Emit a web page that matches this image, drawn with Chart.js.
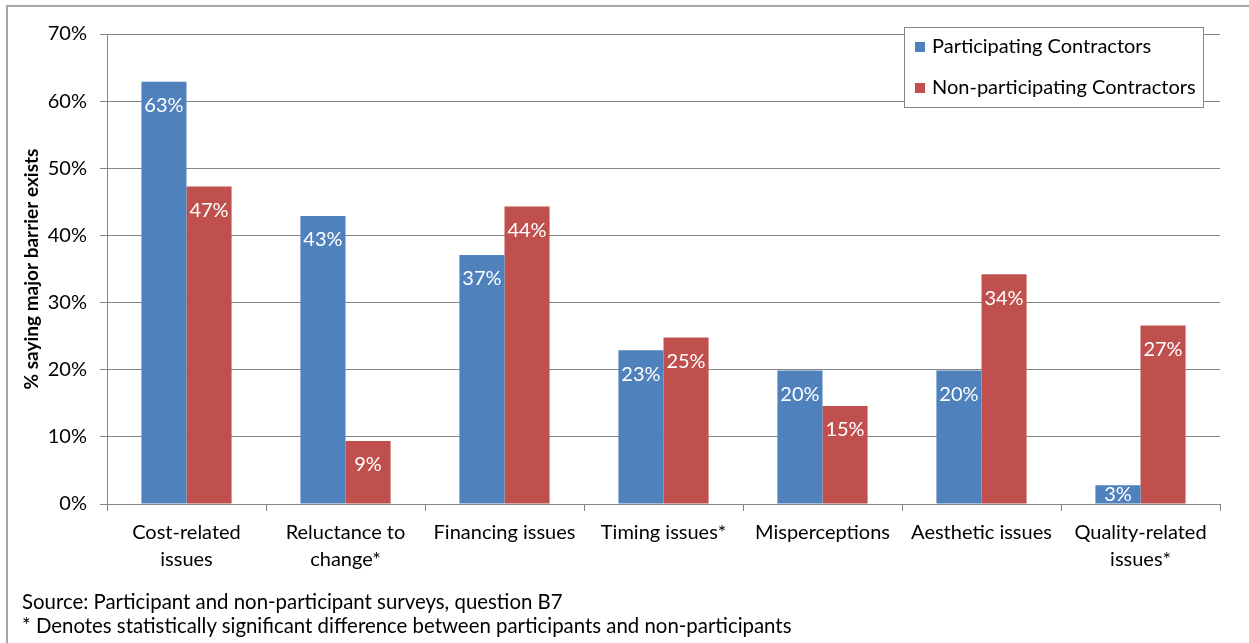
<!DOCTYPE html>
<html lang="en">
<head>
    <meta charset="UTF-8">
    <title>Barriers chart</title>
<script src="https://cdn.jsdelivr.net/npm/chart.js@4.4.1/dist/chart.umd.min.js"></script>
<style>
    body { margin: 0; background: #fff; }
    #wrap { position: relative; width: 1249px; height: 643px; overflow: hidden; }
    #frame { position: absolute; left: 6px; top: 5px; width: 1300px; height: 700px;
             border-left: 2px solid #a6a6a6; border-top: 2px solid #a6a6a6; }
    .note { position: absolute; left: 22px; font-family: Lato, sans-serif; font-size: 20.4px; color: #000; white-space: nowrap; }
</style>
</head>
<body>
<div id="wrap">
    <div id="frame"></div>
    <canvas id="myChart"></canvas>
    <div class="note" style="top: 589px">Source: Participant and non-participant surveys, question B7</div>
    <div class="note" style="top: 613px">* Denotes statistically significant difference between participants and non-participants</div>
</div>
<script>
    // 데이터
    const categories = [
        ['Cost-related', 'issues'],
        ['Reluctance to', 'change*'],
        'Financing issues',
        'Timing issues*',
        'Misperceptions',
        'Aesthetic issues',
        ['Quality-related', 'issues*']
    ];
    const participating = [62.9, 42.9, 37.1, 22.9, 19.9, 19.9, 2.8];
    const nonParticipating = [47.3, 9.4, 44.3, 24.8, 14.6, 34.2, 26.6];
    const yTicks = [0, 10, 20, 30, 40, 50, 60, 70];

    const FONT = 'Lato';
    const GRID = '#868686';

    // 막대 안쪽 위 라벨
    const barLabels = {
        id: 'barLabels',
        afterDatasetsDraw(chart) {
            const ctx = chart.ctx;
            ctx.save();
            ctx.font = '20px ' + FONT;
            ctx.fillStyle = '#fff';
            ctx.textAlign = 'center';
            ctx.textBaseline = 'middle';
            chart.data.datasets.forEach((ds, i) => {
                chart.getDatasetMeta(i).data.forEach((el, j) => {
                    let y = Math.min(el.y + 24, el.base - 9);
                    ctx.fillText(Math.round(ds.data[j]) + '%', el.x, y);
                });
            });
            ctx.restore();
        }
    };

    // 범례 (플롯 안 오른쪽 위)
    const boxLegend = {
        id: 'boxLegend',
        afterDraw(chart) {
            const ctx = chart.ctx;
            const a = chart.chartArea;
            const x0 = a.right - 316, y0 = a.top - 7;
            ctx.save();
            ctx.fillStyle = '#fff';
            ctx.fillRect(x0, y0, 299, 80);
            ctx.strokeStyle = GRID;
            ctx.lineWidth = 1;
            ctx.strokeRect(x0 + 0.5, y0 + 0.5, 299, 80);
            ctx.font = '20px ' + FONT;
            ctx.textBaseline = 'middle';
            ctx.textAlign = 'left';
            chart.data.datasets.forEach((ds, i) => {
                const cy = y0 + 20 + i * 41;
                ctx.fillStyle = ds.backgroundColor;
                ctx.fillRect(x0 + 11, cy - 5, 10, 10);
                ctx.fillStyle = '#000';
                ctx.fillText(ds.label, x0 + 28, cy);
            });
            ctx.restore();
        }
    };

const ctx = document.getElementById('myChart').getContext('2d');
const myChart = new Chart(ctx, {
    type: 'bar',
    data: {
        labels: categories,
        datasets: [{
            label: 'Participating Contractors',
            data: participating,
            backgroundColor: '#4F81BD'
        }, {
            label: 'Non-participating Contractors',
            data: nonParticipating,
            backgroundColor: '#C0504D'
        }]
    },
    options: {
        responsive: true,
        maintainAspectRatio: false,
        animation: false,
        events: [],
        categoryPercentage: 0.567,
        barPercentage: 1,
        layout: { padding: { left: 0, top: 34, right: 29, bottom: 0 } },
        plugins: {
            legend: { display: false },
            tooltip: { enabled: false }
        },
        scales: {
            x: {
                grid: { drawOnChartArea: false, drawTicks: true, tickLength: 7, color: GRID, offset: true },
                border: { display: true, color: GRID },
                ticks: { color: '#000', padding: 8, maxRotation: 0, autoSkip: false,
                         font: { family: FONT, size: 20, lineHeight: 1.35 } },
                afterFit(scale) { scale.height = 139; }
            },
            y: {
                min: 0,
                max: 70,
                afterBuildTicks(scale) { scale.ticks = yTicks.map(v => ({ value: v })); },
                grid: { color: GRID, tickLength: 7 },
                border: { display: true, color: GRID },
                ticks: { color: '#000', padding: 13, callback: v => v + '%',
                         font: { family: FONT, size: 20 } },
                title: {
                    display: true,
                    text: '% saying major barrier exists',
                    color: '#000',
                    padding: { top: 20, bottom: 0 },
                    font: { family: FONT, size: 19, weight: 'bold' }
                },
                afterFit(scale) { scale.width = 107; }
            }
        }
    },
    plugins: [barLabels, boxLegend]
});
</script>
</body>
</html>
